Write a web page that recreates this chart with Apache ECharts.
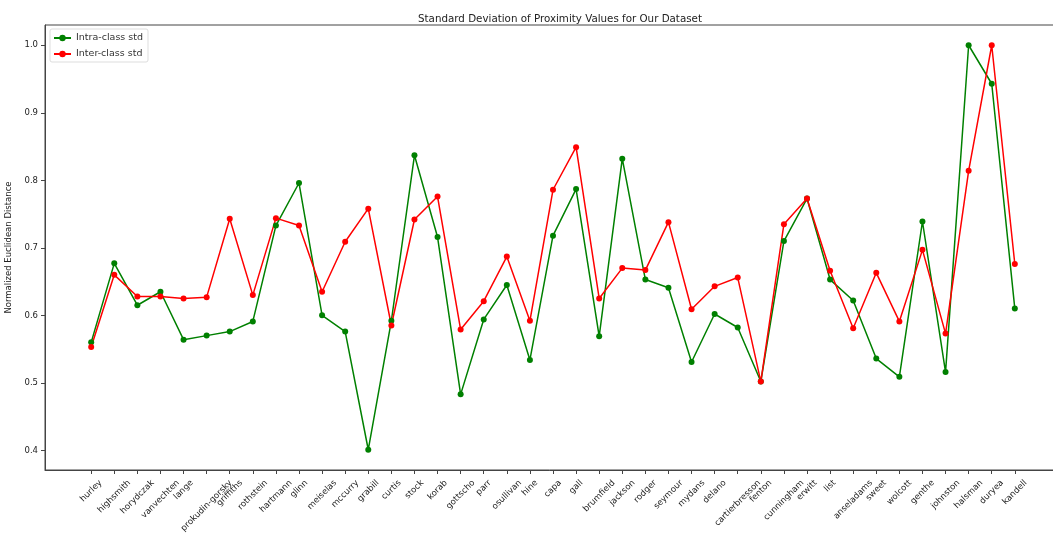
<!DOCTYPE html>
<html>
<head>
<meta charset="utf-8">
<script src="https://cdn.jsdelivr.net/npm/echarts@6/dist/echarts.min.js"></script>
<style>
  html, body { margin: 0; padding: 0; background: #fff; }
  #main { width: 1053px; height: 536px; }
</style>
</head>
<body>
<div id="main"></div>
<script>
// photographers on the x axis
var names = ['hurley', 'highsmith', 'horydczak', 'vanvechten', 'lange', 'prokudin-gorsky', 'griffiths',
    'rothstein', 'hartmann', 'glinn', 'meiselas', 'mccurry', 'grabill', 'curtis', 'stock', 'korab',
    'gottscho', 'parr', 'osullivan', 'hine', 'capa', 'gall', 'brumfield', 'jackson', 'rodger', 'seymour',
    'mydans', 'delano', 'cartierbresson', 'fenton', 'cunningham', 'erwitt', 'list', 'anseladams', 'sweet',
    'wolcott', 'genthe', 'johnston', 'halsman', 'duryea', 'kandell'];
var intraStd = [0.560, 0.677, 0.615, 0.635, 0.564, 0.570, 0.576, 0.591, 0.733, 0.796, 0.600, 0.576, 0.401,
    0.592, 0.837, 0.716, 0.483, 0.594, 0.645, 0.534, 0.718, 0.787, 0.569, 0.832, 0.653, 0.641, 0.531,
    0.602, 0.582, 0.502, 0.710, 0.773, 0.653, 0.622, 0.536, 0.509, 0.739, 0.516, 1.000, 0.943, 0.610];
var interStd = [0.553, 0.660, 0.628, 0.628, 0.625, 0.627, 0.743, 0.630, 0.744, 0.733, 0.635, 0.709, 0.758,
    0.585, 0.742, 0.776, 0.579, 0.621, 0.687, 0.592, 0.786, 0.849, 0.625, 0.670, 0.667, 0.738, 0.609,
    0.643, 0.656, 0.502, 0.735, 0.773, 0.666, 0.581, 0.663, 0.591, 0.697, 0.573, 0.814, 1.000, 0.676];
var yTicks = [0.4, 0.5, 0.6, 0.7, 0.8, 0.9, 1.0];

var FONT = '"DejaVu Sans", sans-serif';
var tickSize = 8.5;

// x positions are just the index of each name
var xTicks = names.map(function (n, i) { return i; });
var pairs = function (arr) { return arr.map(function (v, i) { return [i, v]; }); };

// matplotlib centres the rotated label under the tick; push each one down by its own size
var ctx = document.createElement('canvas').getContext('2d');
ctx.font = tickSize + 'px "DejaVu Sans"';
var rich = {};
names.forEach(function (n, i) {
    var p = (ctx.measureText(n).width + 10) / 2;
    rich['l' + i] = { fontSize: tickSize, fontFamily: FONT, color: '#222', padding: [p, p, 0, 0] };
});

var axisCol = '#444';
var option = {
    animation: false,
    backgroundColor: '#fff',
    title: {
        text: 'Standard Deviation of Proximity Values for Our Dataset',
        left: 555, top: 9, textAlign: 'center',
        textStyle: { fontSize: 10.3, fontWeight: 'normal', color: '#222', fontFamily: FONT }
    },
    legend: {
        data: ['Intra-class std', 'Inter-class std'],
        orient: 'vertical',
        left: 50, top: 29,
        padding: [4, 5, 3, 3],
        itemWidth: 17, itemHeight: 8, itemGap: 6,
        borderColor: '#ddd', borderWidth: 1, borderRadius: 2,
        backgroundColor: 'rgba(255,255,255,0.8)',
        textStyle: { fontSize: 9.5, color: '#333', fontFamily: FONT }
    },
    grid: {
        left: 45, top: 25, bottom: 66, right: -8,
        outerBoundsMode: 'none',
        show: true, borderColor: axisCol, borderWidth: 1
    },
    xAxis: {
        type: 'value', min: -2, max: 42,
        axisLine: { onZero: false, lineStyle: { color: axisCol } },
        axisTick: { customValues: xTicks, length: 4, lineStyle: { color: axisCol } },
        axisLabel: {
            customValues: xTicks, rotate: 45, align: 'center', verticalAlign: 'middle', margin: 8,
            formatter: function (v) { return '{l' + v + '|' + names[v] + '}'; },
            rich: rich
        },
        splitLine: { show: false }
    },
    yAxis: {
        type: 'value', min: 0.371, max: 1.030,
        name: 'Normalized Euclidean Distance', nameLocation: 'middle', nameGap: 21,
        nameTextStyle: { fontSize: 8.5, color: '#222', fontFamily: FONT },
        axisLine: { show: true, onZero: false, lineStyle: { color: axisCol } },
        axisTick: { customValues: yTicks, length: 4, lineStyle: { color: axisCol } },
        axisLabel: {
            customValues: yTicks, margin: 7, fontSize: tickSize, color: '#222', fontFamily: FONT,
            formatter: function (v) { return v.toFixed(1); }
        },
        splitLine: { show: false }
    },
    series: [
        {
            name: 'Intra-class std', type: 'line', data: pairs(intraStd),
            symbol: 'circle', symbolSize: 6, showAllSymbol: true,
            lineStyle: { color: '#008000', width: 1.5 },
            itemStyle: { color: '#008000' }
        },
        {
            name: 'Inter-class std', type: 'line', data: pairs(interStd),
            symbol: 'circle', symbolSize: 6, showAllSymbol: true,
            lineStyle: { color: '#ff0000', width: 1.5 },
            itemStyle: { color: '#ff0000' }
        }
    ]
};
var myChart = echarts.init(document.getElementById('main'));
myChart.setOption(option);
</script>
</body>
</html>
